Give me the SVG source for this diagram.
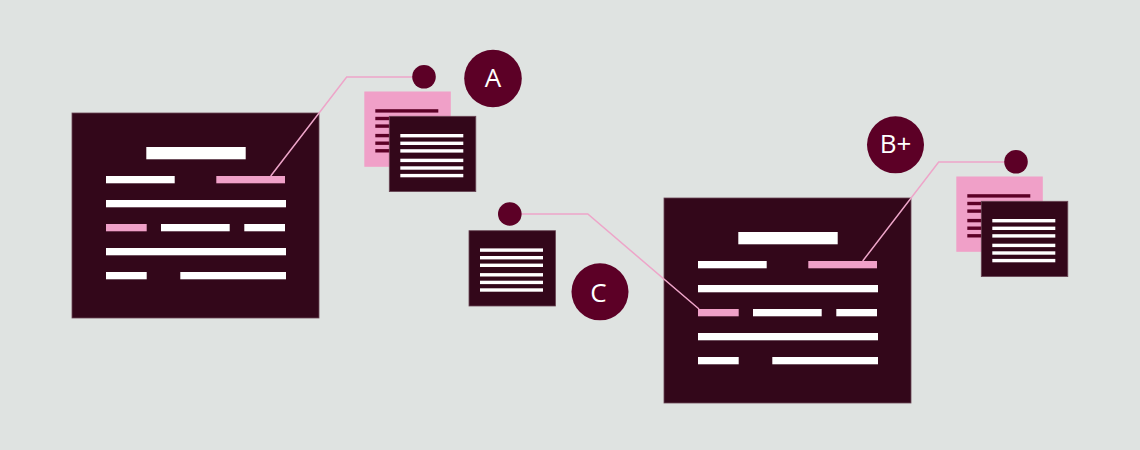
<svg xmlns="http://www.w3.org/2000/svg" xmlns:xlink="http://www.w3.org/1999/xlink" width="1140" height="450" viewBox="0 0 1140 450">
<style>
.bg{fill:#dfe3e1}
.doc{fill:#33071a;stroke:#6a4655;stroke-width:0.8}
.w{fill:#ffffff}
.p{fill:#f0a0c8}
.pd{fill:#f0a0c8}
.dl{fill:#5c0026}
.dot{fill:#5c0026}
.badge{fill:#5c0026}
.lbl{fill:#ffffff;font-family:"Open Sans","Liberation Sans",sans-serif;font-size:26px;text-anchor:middle}
.conn{fill:none;stroke:#eea5c9;stroke-width:1.5}
</style>
<defs>
<g id="bigdoc">
<rect class="doc" x="72" y="113" width="247" height="205"/>
<rect class="w" x="146.3" y="147" width="99.4" height="12.3"/>
<rect class="w" x="106" y="176" width="68.7" height="7.3"/>
<rect class="p" x="216.3" y="176" width="68.7" height="7.3"/>
<rect class="w" x="106" y="200" width="180" height="7.3"/>
<rect class="p" x="106" y="224" width="40.7" height="7.3"/>
<rect class="w" x="161" y="224" width="68.7" height="7.3"/>
<rect class="w" x="244.3" y="224" width="40.7" height="7.3"/>
<rect class="w" x="106" y="248" width="180" height="7.3"/>
<rect class="w" x="106" y="272" width="40.7" height="7.3"/>
<rect class="w" x="180.3" y="272" width="105.7" height="7.3"/>
</g>
<g id="minidoc">
<rect class="doc" x="0" y="0" width="86.5" height="75.3"/>
<rect class="w" x="11" y="17.7" width="63" height="3.4"/>
<rect class="w" x="11" y="25.3" width="63" height="3.4"/>
<rect class="w" x="11" y="32.9" width="63" height="3.4"/>
<rect class="w" x="11" y="42.4" width="63" height="3.4"/>
<rect class="w" x="11" y="50" width="63" height="3.4"/>
<rect class="w" x="11" y="57.6" width="63" height="3.4"/>
</g>
<g id="pinkdoc">
<rect class="pd" x="0" y="0" width="86.5" height="75.3"/>
<rect class="dl" x="11" y="17.7" width="63" height="3.4"/>
<rect class="dl" x="11" y="25.3" width="63" height="3.4"/>
<rect class="dl" x="11" y="32.9" width="63" height="3.4"/>
<rect class="dl" x="11" y="42.4" width="63" height="3.4"/>
<rect class="dl" x="11" y="50" width="63" height="3.4"/>
<rect class="dl" x="11" y="57.6" width="63" height="3.4"/>
</g>
</defs>
<rect class="bg" x="0" y="0" width="1140" height="450"/>

<g id="doc-left"><use xlink:href="#bigdoc"/></g>
<g id="doc-right"><use xlink:href="#bigdoc" transform="translate(592,85)"/></g>

<g id="connectors">
<polyline class="conn" points="270.7,176 346.7,77 424,77"/>
<polyline class="conn" points="510,214 587.8,214 699,309"/>
<polyline class="conn" points="862.7,261 938.7,162 1016,162"/>
</g>

<g id="dot-a"><circle class="dot" cx="424" cy="76.8" r="11.8"/></g>
<g id="dot-c"><circle class="dot" cx="509.8" cy="214" r="11.8"/></g>
<g id="dot-b"><circle class="dot" cx="1016" cy="161.8" r="11.8"/></g>

<g id="stack-a">
<use xlink:href="#pinkdoc" transform="translate(364.3,91.5)"/>
<use xlink:href="#minidoc" transform="translate(389.3,116.3)"/>
</g>
<g id="stack-b">
<use xlink:href="#pinkdoc" transform="translate(956.3,176.5)"/>
<use xlink:href="#minidoc" transform="translate(981.3,201.3)"/>
</g>
<g id="doc-c">
<use xlink:href="#minidoc" transform="translate(469,230.7)"/>
</g>

<g id="badge-a"><circle class="badge" cx="493" cy="78.5" r="28.8"/><text class="lbl" x="493" y="87.2">A</text></g>
<g id="badge-bplus"><circle class="badge" cx="895.5" cy="144.8" r="28.5"/><text class="lbl" x="895.5" y="153.2">B+</text></g>
<g id="badge-c"><circle class="badge" cx="600" cy="291.8" r="28.5"/><text class="lbl" x="598.5" y="301.5">C</text></g>
</svg>
